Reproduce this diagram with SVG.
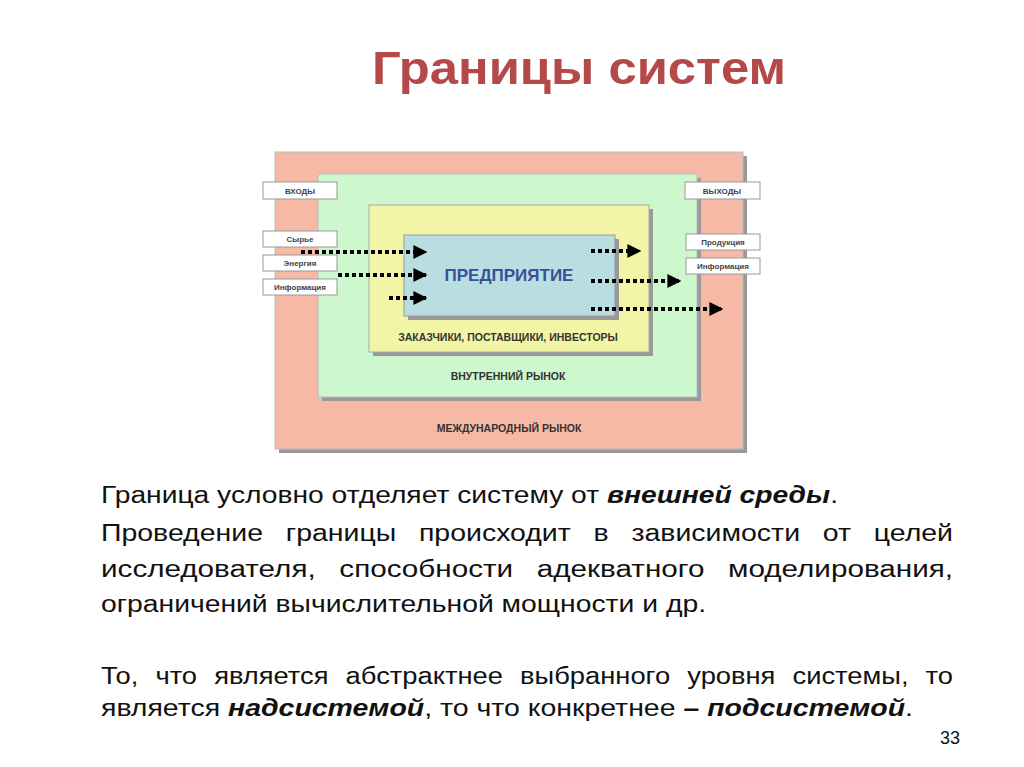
<svg xmlns="http://www.w3.org/2000/svg" width="1024" height="767" viewBox="0 0 1024 767">
<defs>
<style>
.lbl{fill:#fff;stroke:#999;stroke-width:1}
.lt{font-family:"Liberation Sans",Arial,sans-serif;font-size:8px;font-weight:bold;fill:#444;text-anchor:middle}
.bt{font-family:"Liberation Sans",Arial,sans-serif;font-size:10.5px;font-weight:bold;fill:#333;text-anchor:middle}
.body{font-family:"Liberation Sans",Arial,sans-serif;font-size:23px;fill:#111}
.dot{stroke:#000;stroke-width:4;stroke-dasharray:4 3;fill:none}
.sh{fill:#999}
</style>
<marker id="ah" viewBox="0 0 10 10" refX="9" refY="5" markerWidth="3.5" markerHeight="3.5" orient="auto" markerUnits="strokeWidth"><path d="M0,0L10,5L0,10z" fill="#000"/></marker>
</defs>
<rect width="1024" height="767" fill="#fff"/>
<text x="372" y="84" textLength="414" lengthAdjust="spacingAndGlyphs" font-family="Liberation Sans,Arial,sans-serif" font-size="46" font-weight="bold" fill="#b5494a">Границы систем</text>
<g id="intl"><rect class="sh" x="279" y="156" width="468" height="297"/><rect x="275" y="152" width="468" height="297" fill="#f6b9a6" stroke="#bbb"/><text class="bt" x="509" y="432">МЕЖДУНАРОДНЫЙ РЫНОК</text></g>
<g id="inner"><rect class="sh" x="322" y="178" width="379" height="223"/><rect x="318" y="174" width="379" height="223" fill="#cdf7cc" stroke="#bbb"/><text class="bt" x="508" y="380">ВНУТРЕННИЙ РЫНОК</text></g>
<g id="partners"><rect class="sh" x="373" y="209" width="280" height="147"/><rect x="369" y="205" width="280" height="147" fill="#f3f5a6" stroke="#aaa"/><text class="bt" x="508" y="341">ЗАКАЗЧИКИ, ПОСТАВЩИКИ, ИНВЕСТОРЫ</text></g>
<g id="enterprise"><rect class="sh" x="408" y="239" width="211" height="81"/><rect x="404" y="235" width="211" height="81" fill="#b8dee2" stroke="#999"/><text x="509" y="281" font-family="Liberation Sans,Arial,sans-serif" font-size="17" font-weight="bold" fill="#3a4f9a" text-anchor="middle">ПРЕДПРИЯТИЕ</text></g>
<g id="labels">
<rect class="lbl" x="263" y="182" width="74" height="17"/><text class="lt" x="300" y="194">ВХОДЫ</text>
<rect class="lbl" x="263" y="231" width="74" height="16"/><text class="lt" x="300" y="242">Сырье</text>
<rect class="lbl" x="263" y="255" width="74" height="16"/><text class="lt" x="300" y="266">Энергия</text>
<rect class="lbl" x="263" y="279" width="74" height="16"/><text class="lt" x="300" y="290">Информация</text>
<rect class="lbl" x="685" y="182" width="75" height="17"/><text class="lt" x="722" y="194">ВЫХОДЫ</text>
<rect class="lbl" x="686" y="234" width="74" height="16"/><text class="lt" x="723" y="245">Продукция</text>
<rect class="lbl" x="686" y="258" width="74" height="16"/><text class="lt" x="723" y="269">Информация</text>
</g>
<g id="connectors">
<path class="dot" d="M301,252H426" marker-end="url(#ah)"/>
<path class="dot" d="M338,275H426" marker-end="url(#ah)"/>
<path class="dot" d="M389,298H426" marker-end="url(#ah)"/>
<path class="dot" d="M591,251H640" marker-end="url(#ah)"/>
<path class="dot" d="M591,281H680" marker-end="url(#ah)"/>
<path class="dot" d="M591,309H722" marker-end="url(#ah)"/>
</g>
<g class="body">
<text x="101" y="503" textLength="737" lengthAdjust="spacingAndGlyphs">Граница условно отделяет систему от <tspan font-weight="bold" font-style="italic">внешней среды</tspan>.</text>
<text x="101" y="541" textLength="852" lengthAdjust="spacingAndGlyphs" word-spacing="12">Проведение границы происходит в зависимости от целей</text>
<text x="101" y="577" textLength="852" lengthAdjust="spacingAndGlyphs" word-spacing="12">исследователя, способности адекватного моделирования,</text>
<text x="101" y="612" textLength="605" lengthAdjust="spacingAndGlyphs">ограничений вычислительной мощности и др.</text>
<text x="101" y="684" textLength="852" lengthAdjust="spacingAndGlyphs" word-spacing="8">То, что является абстрактнее выбранного уровня системы, то</text>
<text x="101" y="716" textLength="812" lengthAdjust="spacingAndGlyphs">является <tspan font-weight="bold" font-style="italic">надсистемой</tspan>, то что конкретнее <tspan font-weight="bold">–</tspan> <tspan font-weight="bold" font-style="italic">подсистемой</tspan>.</text>
<text x="960" y="744" font-size="18" text-anchor="end">33</text>
</g>
</svg>
